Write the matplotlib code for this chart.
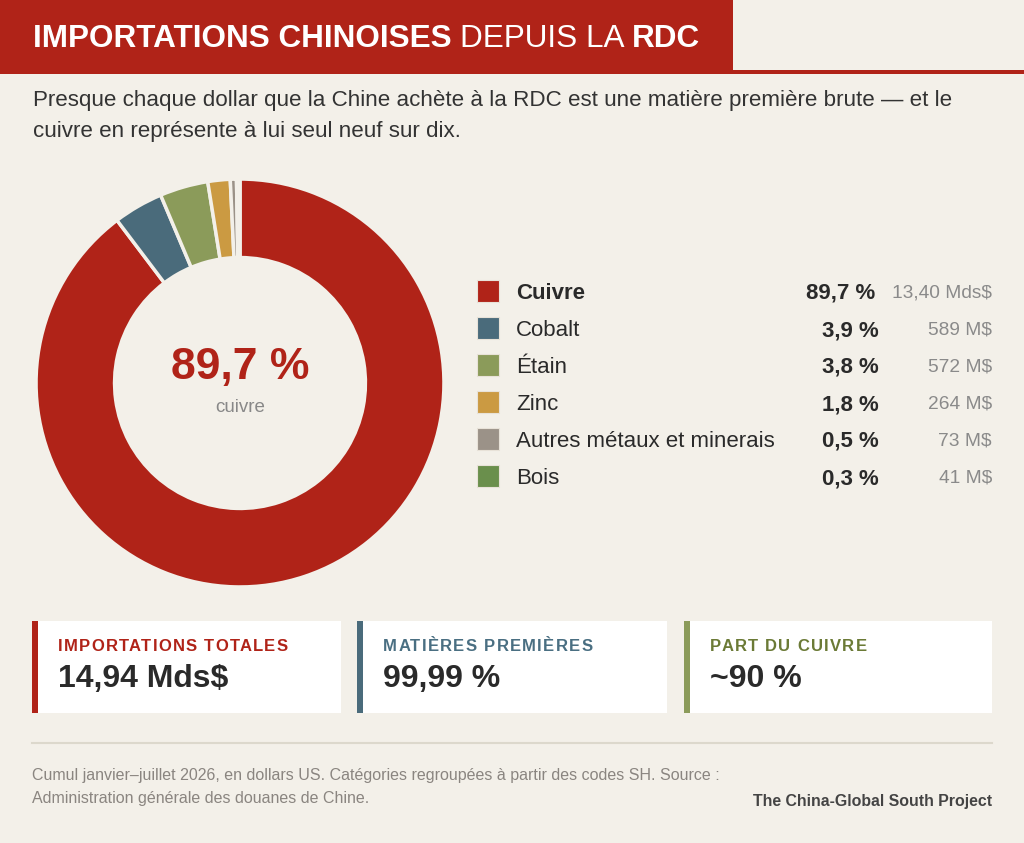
import matplotlib.pyplot as plt
from matplotlib.patches import Rectangle

plt.rcParams['font.family'] = ['Liberation Sans', 'DejaVu Sans']

# data
categories = ["Cuivre", "Cobalt", "Étain", "Zinc", "Autres métaux et minerais", "Bois"]
values_musd = [13400, 589, 572, 264, 73, 41]
pct_labels = ["89,7 %", "3,9 %", "3,8 %", "1,8 %", "0,5 %", "0,3 %"]
amount_labels = ["13,40 Mds$", "589 M$", "572 M$", "264 M$", "73 M$", "41 M$"]
colors = ["#b02318", "#4a6b7b", "#8b9b5a", "#cb9a42", "#9b9288", "#6a8f4c"]

card_titles = ["IMPORTATIONS TOTALES", "MATIÈRES PREMIÈRES", "PART DU CUIVRE"]
card_values = ["14,94 Mds$", "99,99 %", "~90 %"]
card_colors = ["#b02318", "#4a6b7b", "#8b9b5a"]
card_text_colors = ["#b02318", "#4a6f82", "#6b7a36"]

BG = "#f3f0e9"
W, H = 1024, 843

fig = plt.figure(figsize=(W / 100, H / 100), dpi=100, facecolor=BG)
ax = fig.add_axes([0, 0, 1, 1])
ax.set_xlim(0, W)
ax.set_ylim(H, 0)
ax.axis("off")
renderer = fig.canvas.get_renderer()


def text_width(s, **kw):
    t = ax.text(0, 0, s, **kw)
    w = t.get_window_extent(renderer).width
    t.remove()
    return w


def spaced_text(x, y, s, spacing, **kw):
    # rough letter-spacing: each char goes where it would sit in the whole string, plus extra gap
    for i, ch in enumerate(s):
        if ch == " ":
            continue
        off = text_width(s[:i + 1] + "|", **kw) - text_width(ch + "|", **kw) if i else 0
        ax.text(x + off + i * spacing, y, ch, va="baseline", ha="left", **kw)


# header
ax.add_patch(Rectangle((0, 70), W, 4, color=colors[0], lw=0))
ax.add_patch(Rectangle((0, 0), 733, 74, color=colors[0], lw=0))

x = 33
for part, weight in [("IMPORTATIONS CHINOISES ", "bold"), ("DEPUIS LA ", "normal"), ("RDC", "bold")]:
    t = ax.text(x, 47, part, color="white", fontsize=22.7, fontweight=weight, va="baseline", ha="left")
    x += t.get_window_extent(renderer).width

ax.text(33, 106, "Presque chaque dollar que la Chine achète à la RDC est une matière première brute — et le",
        fontsize=16.1, color="#333333", va="baseline")
ax.text(33, 137, "cuivre en représente à lui seul neuf sur dix.", fontsize=16.1, color="#333333", va="baseline")

# donut
cx, cy, r = 240, 383, 206
pax = fig.add_axes([(cx - r) / W, (H - cy - r) / H, 2 * r / W, 2 * r / H])
pax.pie(values_musd, colors=colors, startangle=90, counterclock=False, radius=1,
        wedgeprops=dict(width=0.385, edgecolor=BG, linewidth=2.5))
pax.set_xlim(-1.01, 1.01)
pax.set_ylim(-1.01, 1.01)
pax.set_aspect("equal")
pax.axis("off")

ax.text(cx, 379, pct_labels[0], fontsize=32, fontweight="bold", color=colors[0], ha="center", va="baseline")
ax.text(cx, 412, "cuivre", fontsize=13.5, color="#888888", ha="center", va="baseline")

# legend table
for i, cat in enumerate(categories):
    yb = 299 + i * 37
    ax.add_patch(Rectangle((477, yb - 19), 22, 22, facecolor=colors[i], edgecolor="#e8e2d8", lw=0.8))
    ax.text(516, yb, cat, fontsize=16, color="#2a2a2a", va="baseline",
            fontweight="bold" if i == 0 else "normal")
    ax.text(875 if i == 0 else 879, yb, pct_labels[i], fontsize=16, fontweight="bold", color="#2a2a2a",
            ha="right", va="baseline")
    ax.text(992, yb - 1.5, amount_labels[i], fontsize=13.8, color="#8a8a8a", ha="right", va="baseline")

# cards
card_x = [32, 357, 684]
card_w = [309, 310, 308]
for i in range(3):
    x0 = card_x[i]
    ax.add_patch(Rectangle((x0, 621), card_w[i], 92, facecolor="white", lw=0))
    ax.add_patch(Rectangle((x0, 621), 6, 92, facecolor=card_colors[i], lw=0))
    spaced_text(x0 + 26, 651, card_titles[i], 1.3, fontsize=12, fontweight="bold",
                color=card_text_colors[i])
    ax.text(x0 + 26, 687, card_values[i], fontsize=23, fontweight="bold", color="#2a2a2a", va="baseline")

# footer
ax.plot([32, 992], [743, 743], color="#dcd8cc", lw=1.5)
ax.text(32, 780, "Cumul janvier–juillet 2026, en dollars US. Catégories regroupées à partir des codes SH. Source :",
        fontsize=11.5, color="#8a8580", va="baseline")
ax.text(32, 803, "Administration générale des douanes de Chine.", fontsize=11.5, color="#8a8580", va="baseline")
ax.text(992, 806, "The China-Global South Project", fontsize=11.4, fontweight="bold", color="#444444",
        ha="right", va="baseline")

fig.savefig("out.png", dpi=100, facecolor=BG)
